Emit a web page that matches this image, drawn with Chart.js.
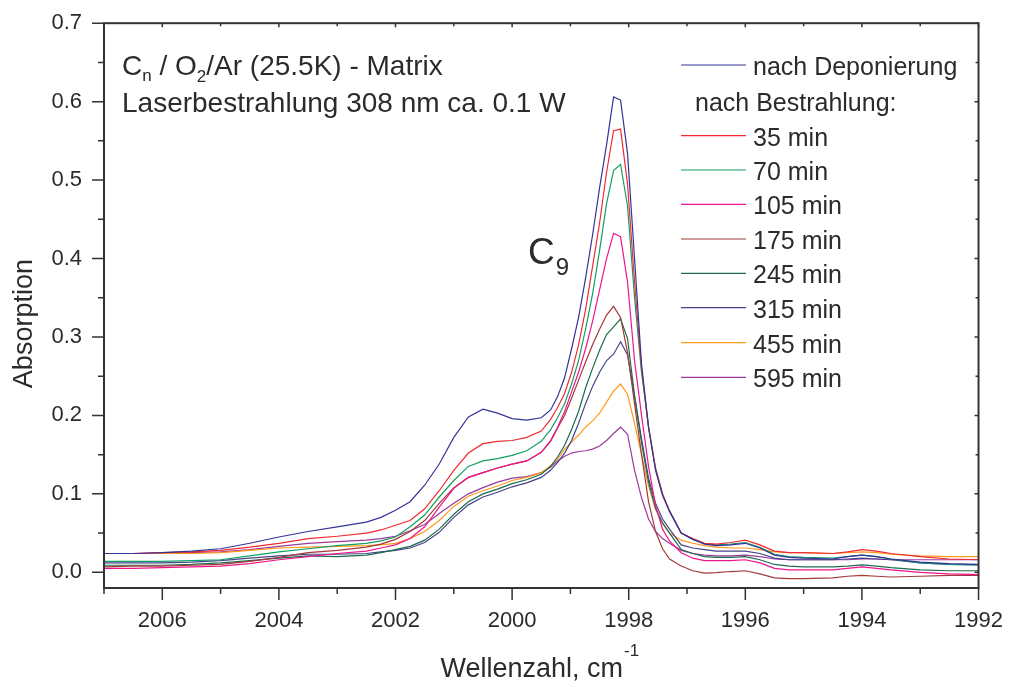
<!DOCTYPE html>
<html><head><meta charset="utf-8">
<script src="https://cdn.jsdelivr.net/npm/chart.js@4"></script>
<style>html,body{margin:0;padding:0;background:#fff;}canvas{display:block;}</style>
</head><body>
<canvas id="c" width="1011" height="687"></canvas>
<script>
// ---- data ----
const wavenumbers = [2007,2006.5,2006,2005.5,2005,2004.5,2004,2003.5,2003,2002.5,2002.25,2002,
  2001.75,2001.5,2001.25,2001,2000.75,2000.5,2000.25,2000,1999.75,1999.5,
  1999.34,1999.22,1999.10,1998.98,1998.86,1998.74,1998.62,1998.50,1998.38,1998.26,1998.14,
  1998.02,1997.90,1997.78,1997.66,1997.54,1997.42,1997.30,1997.1,1996.9,
  1996.7,1996.5,1996.25,1996,1995.75,1995.5,1995.25,1995,1994.5,1994.25,1994,1993.75,1993.5,1993,1992.5,1992];

const seriesLabels = ['nach Deponierung','35 min','70 min','105 min','175 min','245 min','315 min','455 min','595 min'];

const sDeponierung = [0.024,0.024,0.025,0.027,0.030,0.037,0.045,0.052,0.058,0.064,0.070,0.079,
  0.090,0.111,0.138,0.172,0.198,0.208,0.203,0.196,0.194,0.197,
  0.207,0.224,0.248,0.285,0.325,0.375,0.430,0.490,0.545,0.606,0.602,
  0.534,0.400,0.265,0.185,0.130,0.098,0.078,0.050,0.042,
  0.036,0.034,0.035,0.037,0.031,0.022,0.019,0.018,0.017,0.020,0.022,0.020,0.017,0.013,0.011,0.010];
const s35 = [0.024,0.024,0.025,0.026,0.028,0.032,0.037,0.043,0.046,0.050,0.054,0.060,
  0.066,0.081,0.104,0.130,0.152,0.164,0.167,0.168,0.172,0.180,
  0.195,0.210,0.228,0.255,0.290,0.335,0.390,0.445,0.510,0.563,0.565,
  0.495,0.370,0.260,0.185,0.132,0.100,0.078,0.050,0.043,
  0.037,0.036,0.038,0.041,0.035,0.027,0.025,0.025,0.024,0.026,0.029,0.027,0.024,0.020,0.017,0.016];
const s70 = [0.014,0.014,0.014,0.015,0.016,0.021,0.026,0.030,0.034,0.037,0.040,0.045,
  0.058,0.073,0.096,0.117,0.135,0.142,0.145,0.149,0.155,0.167,
  0.182,0.197,0.215,0.240,0.270,0.310,0.355,0.410,0.470,0.512,0.520,
  0.467,0.350,0.255,0.185,0.133,0.100,0.078,0.050,0.042,
  0.037,0.035,0.036,0.038,0.032,0.023,0.020,0.019,0.018,0.020,0.022,0.020,0.017,0.012,0.010,0.0095];
const s105 = [0.005,0.005,0.006,0.007,0.008,0.011,0.016,0.020,0.024,0.027,0.031,0.035,
  0.043,0.058,0.083,0.107,0.121,0.127,0.133,0.138,0.142,0.153,
  0.168,0.185,0.205,0.230,0.255,0.285,0.320,0.360,0.400,0.432,0.428,
  0.370,0.270,0.200,0.135,0.085,0.055,0.040,0.025,0.018,
  0.015,0.015,0.015,0.016,0.012,0.005,0.003,0.003,0.003,0.005,0.007,0.005,0.003,0.000,-0.002,-0.003];
const s175 = [0.007,0.008,0.008,0.009,0.010,0.014,0.019,0.025,0.028,0.032,0.036,0.042,
  0.052,0.066,0.088,0.108,0.121,0.127,0.133,0.138,0.142,0.153,
  0.167,0.184,0.200,0.222,0.245,0.268,0.290,0.310,0.328,0.339,0.325,
  0.280,0.215,0.150,0.090,0.052,0.030,0.017,0.008,0.002,
  -0.001,-0.0005,0.001,0.002,-0.002,-0.007,-0.008,-0.008,-0.007,-0.005,-0.004,-0.005,-0.006,-0.005,-0.004,-0.004];
const s245 = [0.009,0.009,0.009,0.010,0.012,0.015,0.018,0.021,0.020,0.022,0.025,0.029,
  0.033,0.041,0.055,0.074,0.090,0.100,0.106,0.113,0.118,0.125,
  0.135,0.147,0.162,0.182,0.205,0.235,0.260,0.283,0.303,0.313,0.323,
  0.298,0.225,0.165,0.115,0.082,0.063,0.050,0.029,0.024,
  0.020,0.019,0.019,0.020,0.016,0.010,0.008,0.007,0.007,0.008,0.0095,0.008,0.006,0.003,0.002,0.002];
const s315 = [0.012,0.012,0.012,0.013,0.015,0.018,0.021,0.023,0.023,0.024,0.026,0.028,
  0.031,0.038,0.051,0.070,0.086,0.096,0.102,0.109,0.114,0.121,
  0.130,0.140,0.152,0.168,0.190,0.215,0.237,0.255,0.270,0.278,0.294,
  0.277,0.225,0.170,0.120,0.088,0.068,0.055,0.035,0.031,
  0.029,0.027,0.027,0.027,0.024,0.018,0.016,0.016,0.016,0.017,0.018,0.017,0.016,0.012,0.010,0.0095];
const s455 = [0.024,0.024,0.024,0.024,0.025,0.028,0.031,0.032,0.033,0.034,0.035,0.037,
  0.043,0.052,0.066,0.084,0.097,0.104,0.110,0.117,0.121,0.127,
  0.136,0.144,0.157,0.166,0.175,0.185,0.193,0.203,0.217,0.231,0.240,
  0.227,0.190,0.150,0.110,0.080,0.062,0.050,0.041,0.037,
  0.034,0.032,0.031,0.031,0.029,0.026,0.025,0.025,0.024,0.025,0.026,0.025,0.023,0.021,0.020,0.020];
const s595 = [0.024,0.024,0.024,0.025,0.026,0.029,0.033,0.037,0.039,0.041,0.043,0.046,
  0.053,0.061,0.075,0.088,0.100,0.108,0.115,0.120,0.122,0.127,
  0.134,0.142,0.148,0.152,0.154,0.155,0.157,0.161,0.168,0.177,0.185,
  0.176,0.130,0.095,0.068,0.052,0.043,0.037,0.028,0.024,
  0.022,0.021,0.021,0.022,0.020,0.017,0.016,0.016,0.016,0.016,0.017,0.017,0.016,0.016,0.016,0.016];

const xMajorTicks = [2006,2004,2002,2000,1998,1996,1994,1992];
const xTickLabels = ['2006','2004','2002','2000','1998','1996','1994','1992'];
const xMinorTicks = [2007,2005,2003,2001,1999,1997,1995,1993];
const yMajorTicks = [0,0.1,0.2,0.3,0.4,0.5,0.6,0.7];
const yTickLabels = ['0.0','0.1','0.2','0.3','0.4','0.5','0.6','0.7'];
const yMinorTicks = [0.05,0.15,0.25,0.35,0.45,0.55,0.65];

// ---- styling ----
const colors = ['#34349a','#f02a30','#12a062','#f0148c','#a33a3a','#1d6b4d','#44448c','#ff9a1a','#9b3a9b'];
const seriesValues = [sDeponierung,s35,s70,s105,s175,s245,s315,s455,s595];
const FONT = '"Liberation Sans", Arial, Helvetica, sans-serif';
const TXT = '#2b2b2b';
const AX = '#333333';

const datasets = seriesValues.map((vals, k) => ({
  label: seriesLabels[k],
  data: wavenumbers.map((w, i) => ({x: w, y: vals[i]})),
  borderColor: colors[k],
  backgroundColor: colors[k],
  borderWidth: 1.2,
  pointRadius: 0,
  tension: 0,
  fill: false
}));

const decor = {
  id: 'decor',
  afterDraw(chart) {
    const {ctx, chartArea: a, scales: {x, y}} = chart;
    ctx.save();
    ctx.strokeStyle = AX; ctx.lineWidth = 2;
    ctx.strokeRect(a.left, a.top, a.right - a.left, a.bottom - a.top);
    ctx.lineWidth = 1.5;
    ctx.beginPath();
    xMajorTicks.forEach(v => { const p = x.getPixelForValue(v); ctx.moveTo(p, a.bottom); ctx.lineTo(p, a.bottom + 12); ctx.moveTo(p, a.top); ctx.lineTo(p, a.top + 4); });
    xMinorTicks.forEach(v => { const p = x.getPixelForValue(v); ctx.moveTo(p, a.bottom); ctx.lineTo(p, a.bottom + 6); ctx.moveTo(p, a.top); ctx.lineTo(p, a.top + 3); });
    yMajorTicks.forEach(v => { const p = y.getPixelForValue(v); ctx.moveTo(a.left - 12, p); ctx.lineTo(a.left, p); ctx.moveTo(a.right, p); ctx.lineTo(a.right - 4, p); });
    yMinorTicks.forEach(v => { const p = y.getPixelForValue(v); ctx.moveTo(a.left - 6, p); ctx.lineTo(a.left, p); ctx.moveTo(a.right, p); ctx.lineTo(a.right - 3, p); });
    ctx.stroke();

    ctx.fillStyle = TXT;
    ctx.textBaseline = 'alphabetic';
    ctx.textAlign = 'left';
    ctx.font = `27px ${FONT}`;
    const t1 = 'Wellenzahl, cm';
    const w1 = ctx.measureText(t1).width;
    ctx.font = `17px ${FONT}`;
    const w2 = ctx.measureText('-1').width;
    const sx = (a.left + a.right) / 2 - (w1 + w2) / 2 - 2;
    ctx.font = `27px ${FONT}`;
    ctx.fillText(t1, sx, 677);
    ctx.font = `17px ${FONT}`;
    ctx.fillText('-1', sx + w1 + 1, 656);

    ctx.save();
    ctx.translate(32, (a.top + a.bottom) / 2 + 18);
    ctx.rotate(-Math.PI / 2);
    ctx.font = `27px ${FONT}`;
    ctx.textAlign = 'center';
    ctx.fillText('Absorption', 0, 0);
    ctx.restore();

    const big = `28px ${FONT}`, small = `17px ${FONT}`;
    let cx = 122;
    const seg = (txt, font, base) => { ctx.font = font; ctx.fillText(txt, cx, base); cx += ctx.measureText(txt).width; };
    seg('C', big, 75); seg('n', small, 81); seg(' / O', big, 75); seg('2', small, 82); seg('/Ar (25.5K) - Matrix', big, 75);
    ctx.font = big;
    ctx.fillText('Laserbestrahlung 308 nm ca. 0.1 W', 122, 112);

    cx = 528;
    seg('C', `37px ${FONT}`, 264); cx += 1; seg('9', `24px ${FONT}`, 275);

    const legY = [65, 135.7, 170, 204.3, 239, 273.3, 307.7, 342.7, 377.3];
    ctx.font = `25px ${FONT}`;
    ctx.lineWidth = 1.2;
    legY.forEach((ly, k) => {
      ctx.strokeStyle = colors[k];
      ctx.beginPath(); ctx.moveTo(681, ly); ctx.lineTo(746, ly); ctx.stroke();
      ctx.fillStyle = TXT;
      ctx.fillText(seriesLabels[k], 753, ly + 10);
    });
    ctx.fillText('nach Bestrahlung:', 695, 111);
    ctx.restore();
  }
};

new Chart(document.getElementById('c'), {
  type: 'line',
  data: {datasets},
  options: {
    responsive: false,
    animation: false,
    events: [],
    layout: {padding: {top: 19, right: 27, left: 0, bottom: 0}},
    plugins: {legend: {display: false}, tooltip: {enabled: false}},
    scales: {
      x: {
        type: 'linear', reverse: true, min: 1992, max: 2007,
        afterFit(s) { s.height = 99; },
        afterBuildTicks(s) { s.ticks = xMajorTicks.map(v => ({value: v})); },
        grid: {display: true, drawOnChartArea: false, color: 'rgba(0,0,0,0)', tickLength: 12},
        border: {display: false},
        ticks: {autoSkip: false, maxRotation: 0, padding: 8, color: TXT, font: {family: FONT, size: 22},
          callback: (v) => { const i = xMajorTicks.indexOf(v); return i >= 0 ? xTickLabels[i] : ''; }}
      },
      y: {
        type: 'linear', min: -0.02, max: 0.7,
        afterFit(s) { s.width = 104; },
        afterBuildTicks(s) { s.ticks = yMajorTicks.map(v => ({value: v})); },
        grid: {display: true, drawOnChartArea: false, color: 'rgba(0,0,0,0)', tickLength: 12},
        border: {display: false},
        ticks: {autoSkip: false, padding: 10, color: TXT, font: {family: FONT, size: 22},
          callback: (v) => { const i = yMajorTicks.findIndex(t => Math.abs(t - v) < 1e-9); return i >= 0 ? yTickLabels[i] : ''; }}
      }
    }
  },
  plugins: [decor]
});
</script>
</body></html>
